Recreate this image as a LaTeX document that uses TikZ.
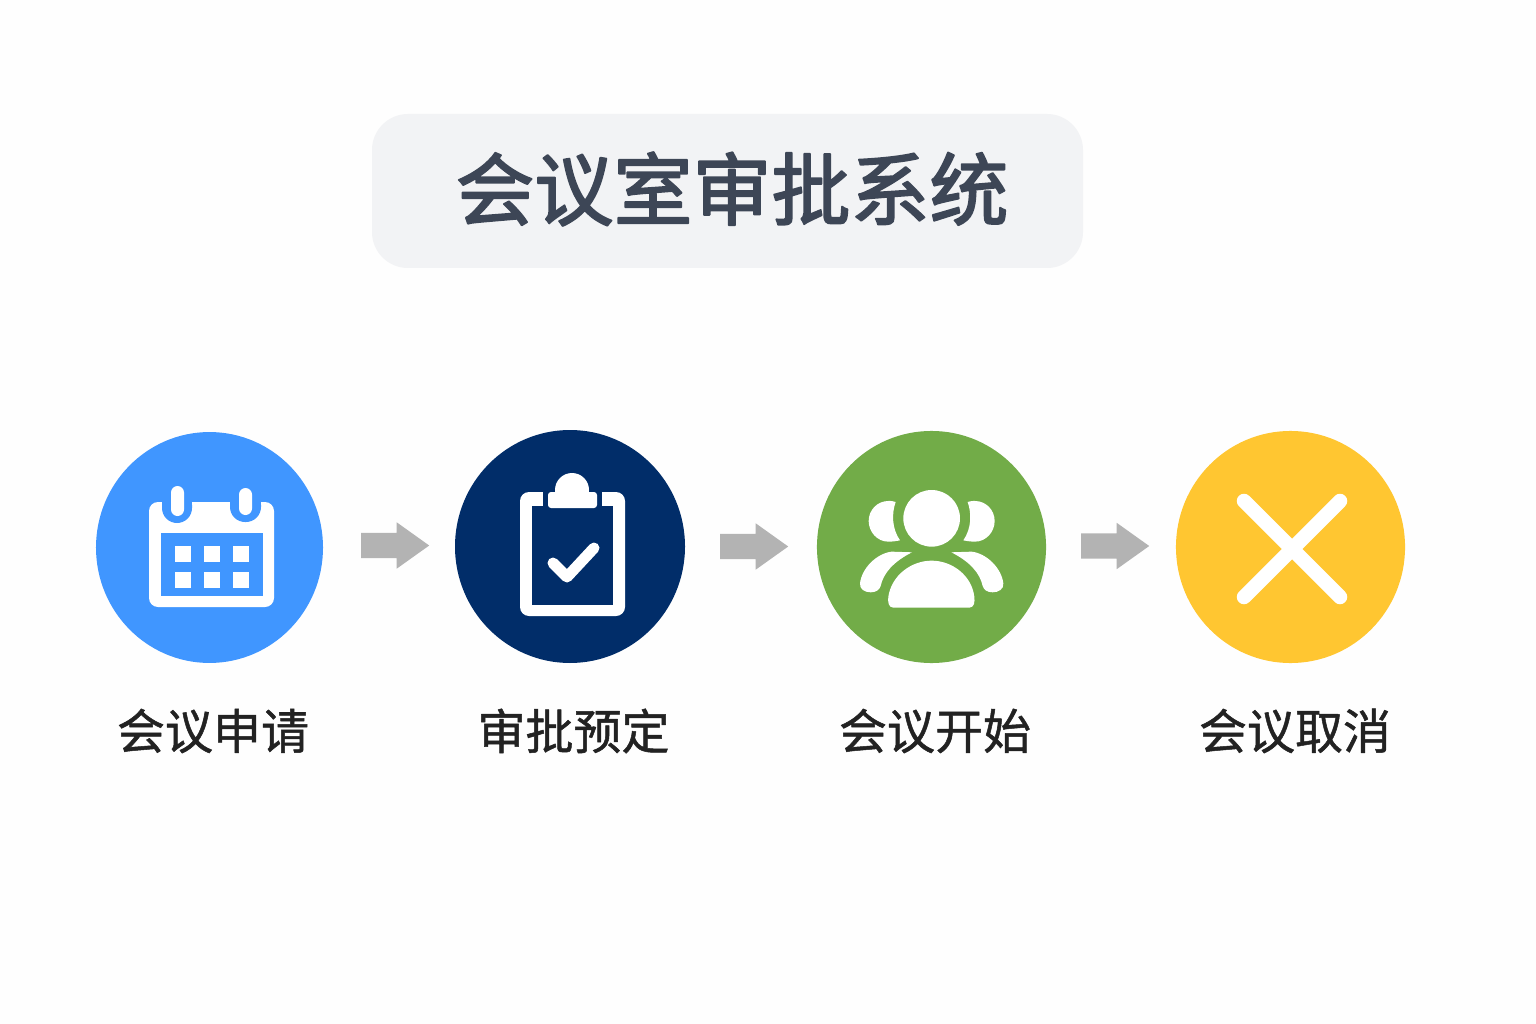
\documentclass[tikz,border=0pt]{standalone}
\usepackage{fontspec}
\usetikzlibrary{shapes.arrows}
\newfontfamily\cjk{Noto Sans CJK SC}
\newcommand{\heavytext}[2]{\special{pdf:code 2 Tr #1 w 1 j}#2\special{pdf:code 0 Tr 0.4 w 0 j}}
\definecolor{bgc}{HTML}{FEFEFE}
\definecolor{boxc}{HTML}{F2F3F5}
\definecolor{titlec}{HTML}{3D4656}
\definecolor{labelc}{HTML}{222222}
\definecolor{arrowc}{HTML}{B3B3B3}
\definecolor{bluec}{HTML}{4096FF}
\definecolor{navyc}{HTML}{012D69}
\definecolor{greenc}{HTML}{72AC48}
\definecolor{yellowc}{HTML}{FFC631}
\tikzset{
  disc/.style={circle,inner sep=0pt,minimum size=230,fill=#1},
  stepname/.style={font=\cjk\fontsize{48}{52}\selectfont,text=labelc,inner sep=0pt},
  flowarrow/.style={single arrow,fill=arrowc,inner xsep=0pt,inner ysep=12.5,minimum height=68,
    single arrow head extend=10.5,single arrow tip angle=71,anchor=tail},
}
\begin{document}
\begin{tikzpicture}[x=1pt,y=-1pt]
\useasboundingbox (0,0) rectangle (1536,1024);
\fill[bgc] (0,0) rectangle (1536,1024);
% title
\fill[boxc,rounded corners=36] (372,114) rectangle (1083,268);
\node[font=\cjk\fontsize{79}{84}\selectfont,text=titlec,inner sep=0pt] (title) at (732,189) {\heavytext{1.8}{会议室审批系统}};
% discs
\node[disc=bluec,xscale=.987,yscale=1.004] (d1) at (209.5,547.5) {};
\node[disc=navyc,yscale=1.013] (d2) at (570,546.5) {};
\node[disc=greenc,xscale=.996,yscale=1.009] (d3) at (931.5,547) {};
\node[disc=yellowc,xscale=.996,yscale=1.009] (d4) at (1290.5,547) {};
% labels
\node[stepname] (l1) at (213,731) {\heavytext{0.5}{会议申请}};
\node[stepname] (l2) at (573.5,731) {\heavytext{0.5}{审批预定}};
\node[stepname] (l3) at (935,731) {\heavytext{0.5}{会议开始}};
\node[stepname] (l4) at (1295,731) {\heavytext{0.5}{会议取消}};
% arrows
\node[flowarrow] (a1) at (361,545.5) {};
\node[flowarrow] (a2) at (720,546.5) {};
\node[flowarrow] (a3) at (1081,546) {};
% calendar
\fill[white,rounded corners=9] (149,502) rectangle (274,607);
\fill[bluec] (161,533) rectangle (263,596);
\foreach \x in {175,204,233}\foreach \y in {546,572}{\fill[white] (\x,\y) rectangle ++(16,16);}
\fill[bluec,rounded corners=15] (162,490) -- (192,490) -- (192,523) -- (162,523) -- cycle;
\fill[bluec] (162,490) rectangle (192,506);
\fill[bluec,rounded corners=15] (230,490) -- (261,490) -- (261,522) -- (230,522) -- cycle;
\fill[bluec] (230,490) rectangle (261,506);
\fill[white,rounded corners=6.5] (171,486) rectangle (184,516);
\fill[white,rounded corners=6.5] (239,488) rectangle (252,515);
% clipboard
\fill[white,rounded corners=9] (520,492) rectangle (625,616);
\fill[navyc] (532,506) rectangle (613,605);
\fill[navyc] (543,490) rectangle (602,506);
\fill[white,rounded corners=3] (548,492) rectangle (597,508);
\fill[white] (572,490) circle[radius=17];
\draw[white,line width=11,line cap=round,line join=round] (553,563) -- (567,577) -- (594,548);
% people
\begin{scope}[shift={(850,470)},x=0.3333pt,y=-0.3333pt]
\fill[white] (245,145) circle[radius=85];
\fill[white] (137,96) .. controls (125,92) and (115,93) .. (115,93) .. controls (82,93) and (56,120) .. (56,153) .. controls (56,186) and (82,215) .. (115,215) .. controls (128,215) and (140,213) .. (150,211) .. controls (125,175) and (125,130) .. (137,96) -- cycle;
\fill[white] (353,96) .. controls (365,92) and (375,93) .. (375,93) .. controls (408,93) and (434,120) .. (434,153) .. controls (434,186) and (408,215) .. (375,215) .. controls (362,215) and (350,213) .. (340,211) .. controls (365,175) and (365,130) .. (353,96) -- cycle;
\fill[white] (186,247) -- (125,245) .. controls (80,250) and (35,295) .. (30,340) .. controls (28,358) and (45,367) .. (62,367) .. controls (78,367) and (88,360) .. (92,348) .. controls (100,310) and (130,275) .. (186,247) -- cycle;
\fill[white] (304,247) -- (365,245) .. controls (410,250) and (455,295) .. (460,340) .. controls (462,358) and (445,367) .. (428,367) .. controls (412,367) and (402,360) .. (398,348) .. controls (390,310) and (360,275) .. (304,247) -- cycle;
\fill[white] (130,413) .. controls (115,413) and (113,395) .. (115,380) .. controls (125,315) and (185,272) .. (245,272) .. controls (305,272) and (365,315) .. (373,380) .. controls (375,395) and (373,413) .. (358,413) -- cycle;
\end{scope}
% cross
\draw[white,line width=14.5,line cap=round] (1244,501) -- (1340,597);
\draw[white,line width=14.5,line cap=round] (1340,501) -- (1244,597);
\end{tikzpicture}
\end{document}
